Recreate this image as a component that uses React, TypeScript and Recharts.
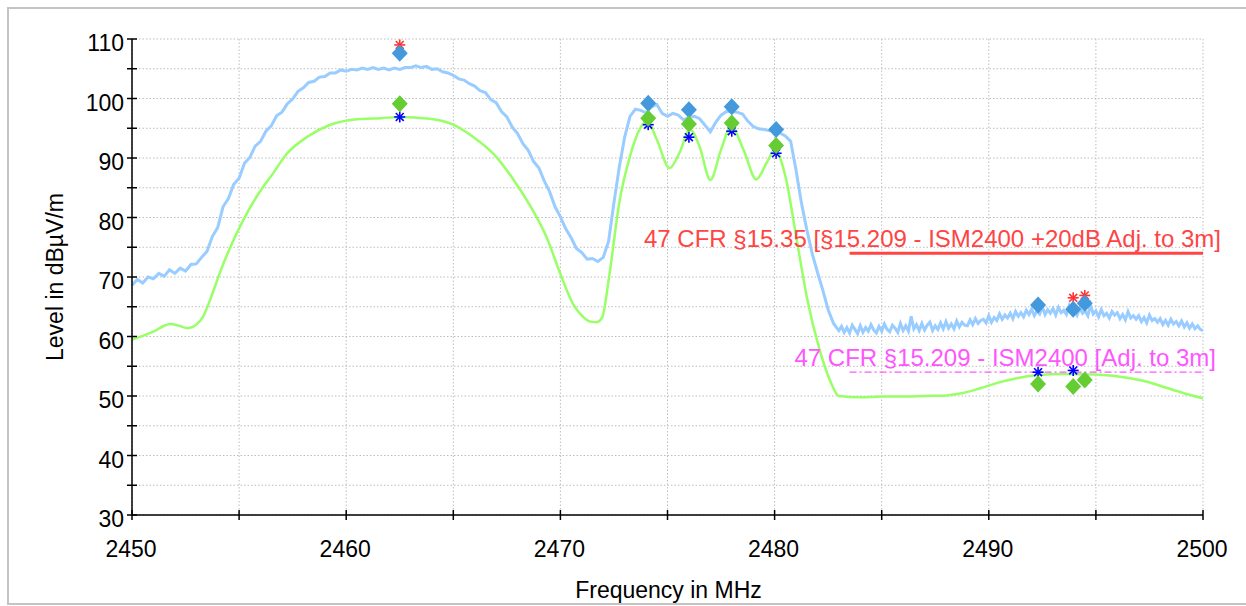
import React from "react"
import {
  ComposedChart,
  Line,
  Scatter,
  XAxis,
  YAxis,
  CartesianGrid,
  ReferenceLine,
} from "recharts"

const FONT = "'Liberation Sans', Arial, Helvetica, sans-serif"

// peak trace, part A: one value every 0.25 MHz from 2450 to 2482.75
const PEAK_A_START = 2450
const PEAK_A_STEP = 0.25
const PEAK_A_LEVELS = [
  68.6, 69.6, 69.0, 70.0, // 2450
  69.7, 70.6, 70.1, 71.2,
  70.6, 71.5, 71.0, 72.1,
  72.2, 73.3, 74.3, 76.8,
  78.3, 81.8, 83.2, 85.6,
  86.6, 89.1, 90.1, 92.0, // 2455
  92.8, 94.5, 95.4, 97.1,
  97.7, 99.1, 99.9, 101.2,
  101.8, 102.7, 102.9, 103.6,
  103.7, 104.3, 104.3, 104.8,
  104.6, 104.9, 104.8, 105.1, // 2460
  104.9, 105.2, 104.9, 105.1,
  104.8, 105.1, 104.9, 105.2,
  105.2, 105.5, 105.2, 105.4,
  104.9, 105.0, 104.5, 104.3,
  103.9, 103.3, 103.1, 102.5, // 2465
  102.1, 101.3, 101.0, 99.8,
  99.3, 97.8, 96.9, 95.2,
  94.1, 92.4, 91.3, 89.4,
  88.3, 86.1, 84.3, 81.8,
  80.1, 78.1, 76.6, 74.8, // 2470
  74.1, 73.0, 73.1, 72.6,
  73.3, 76.0, 82.5, 88.5,
  93.5, 97.0, 98.2, 98.0,
  97.6, 98.6, 99.0, 97.5,
  97.0, 97.5, 97.2, 96.4, // 2475
  96.8, 97.0, 96.6, 95.5,
  94.4, 96.0, 97.2, 97.8,
  97.8, 97.7, 97.4, 96.2,
  95.3, 94.9, 94.8, 94.6,
  94.5, 94.2, 93.7, 92.8, // 2480
  88.0, 82.5, 78.0, 74.0,
  70.8, 67.8, 64.5, 62.2,
]

// peak trace, part B: noisy floor, one value every 0.125 MHz from 2483 to 2500
const PEAK_B_START = 2483
const PEAK_B_STEP = 0.125
const PEAK_B_LEVELS = [
  61.0, 61.7, 60.7, 61.5, 60.6, 61.9, 61.2, 60.5, // 2483
  61.8, 60.7, 61.5, 60.9, 62.0, 61.1, 60.6, 61.7,
  60.9, 62.1, 61.2, 60.8, 61.9, 61.4, 60.7, 62.2, // 2485
  61.0, 61.8, 60.9, 63.4, 61.3, 62.0, 61.0, 62.2,
  61.1, 61.9, 62.4, 61.0, 61.8, 61.2, 62.3, 61.3,
  62.5, 61.4, 62.1, 61.3, 62.6, 61.6, 62.4, 61.9,
  61.8, 62.8, 62.0, 63.0, 62.2, 62.7, 62.9, 62.3,
  63.5, 62.4, 63.2, 62.7, 63.8, 62.9, 63.6, 63.1, // 2490
  63.9, 63.0, 64.2, 63.4, 64.0, 63.3, 64.4, 63.7,
  64.6, 63.5, 64.3, 63.8, 65.0, 63.7, 64.5, 63.9,
  64.7, 63.6, 64.9, 64.0, 64.4, 63.7, 65.1, 63.9,
  64.6, 63.6, 64.8, 63.9, 64.3, 63.5, 65.3, 63.8,
  64.3, 63.3, 64.5, 63.5, 63.9, 63.1, 64.2, 63.6, // 2495
  64.0, 63.0, 63.7, 62.8, 64.2, 63.1, 63.5, 62.9,
  63.5, 62.5, 63.2, 62.3, 63.6, 62.7, 63.0, 62.4,
  63.0, 62.0, 62.7, 61.9, 62.9, 62.1, 62.5, 61.8,
  62.6, 61.6, 62.3, 61.4, 62.1, 61.3, 61.8, 61.2,
  61.0, // 2500
]

// average trace [MHz, dBµV/m]
const AVG_POINTS = [
  [2450, 59.5], [2450.5, 60.1], [2451, 60.8], [2451.5, 61.8], [2451.8, 62.1],
  [2452.2, 61.8], [2452.6, 61.4], [2453, 62.0], [2453.3, 63.2], [2453.65, 66.2],
  [2454.1, 70.7], [2454.6, 75.1], [2455.2, 79.6], [2455.8, 83.4], [2456.6, 87.5],
  [2457.2, 90.6], [2458.2, 93.6], [2459.2, 95.5], [2460.5, 96.5], [2461.6, 96.7],
  [2462.5, 96.9], [2463.9, 96.6], [2465, 95.6], [2465.9, 93.6], [2466.9, 90.6],
  [2467.8, 86.4], [2468.6, 81.9], [2469.4, 76.3], [2470, 70.5], [2470.6, 65.4],
  [2471.0, 63.5], [2471.4, 62.5], [2471.7, 62.4], [2471.95, 63.2], [2472.3, 70.7],
  [2472.75, 82.5], [2473.25, 90.3], [2473.7, 94.8], [2474.05, 96.2], [2474.5, 93.1],
  [2475.1, 88.3], [2475.55, 90.8], [2476.05, 94.8], [2476.5, 91.9], [2477.0, 86.3],
  [2477.5, 91.4], [2477.97, 95.3], [2478.55, 91.4], [2479.15, 86.4], [2479.63, 89.2],
  [2480.02, 91.4], [2480.5, 87.0], [2481.0, 77.0], [2481.5, 66.7], [2482.1, 57.8],
  [2482.6, 52.5], [2483.0, 50.0], [2484, 49.8], [2485, 49.9], [2486, 49.9],
  [2487, 50.0], [2488, 50.1], [2488.8, 50.5], [2489.6, 51.3], [2490.4, 52.2],
  [2491.3, 53.0], [2492.2, 53.5], [2493.5, 53.7], [2495, 53.6], [2496.6, 53.0],
  [2497.4, 52.4], [2498.1, 51.6], [2499, 50.6], [2500, 49.6],
]

// markers [MHz, dBµV/m]
const PEAK_DIAMONDS = [
  [2462.5, 107.6], [2474.1, 99.2], [2476.0, 98.1], [2478.0, 98.6], [2480.07, 94.8],
  [2492.3, 65.3], [2493.94, 64.6], [2494.48, 65.6],
]
const PEAK_STARS = [[2462.5, 109.0], [2493.94, 66.5], [2494.48, 66.9]]
const AVG_DIAMONDS = [
  [2462.5, 99.1], [2474.1, 96.7], [2476.0, 95.7], [2478.0, 95.9], [2480.07, 92.1],
  [2492.3, 52.0], [2493.94, 51.6], [2494.48, 52.7],
]
const AVG_STARS = [
  [2462.5, 96.9], [2474.1, 95.6], [2476.0, 93.5], [2478.0, 94.5], [2480.07, 90.8],
  [2492.3, 54.0], [2493.94, 54.3],
]

// limit lines
const LIMIT_START = 2483.5
const LIMIT_END = 2500
const PEAK_LIMIT = 74
const AVG_LIMIT = 54
const PEAK_LIMIT_LABEL = "47 CFR §15.35 [§15.209 - ISM2400 +20dB Adj. to 3m]"
const AVG_LIMIT_LABEL = "47 CFR §15.209 - ISM2400 [Adj. to 3m]"

const X_TICKS = [2450, 2455, 2460, 2465, 2470, 2475, 2480, 2485, 2490, 2495, 2500]
const Y_TICKS = [30, 35, 40, 45, 50, 55, 60, 65, 70, 75, 80, 85, 90, 95, 100, 105, 110]
const X_TITLE = "Frequency in MHz"
const Y_TITLE = "Level in dBµV/m"

const peakData = [
  ...PEAK_A_LEVELS.map((y, i) => ({ x: PEAK_A_START + i * PEAK_A_STEP, y })),
  ...PEAK_B_LEVELS.map((y, i) => ({ x: PEAK_B_START + i * PEAK_B_STEP, y })),
]
const toXY = (pts: number[][]) => pts.map(([x, y]) => ({ x, y }))

const Diamond = ({ cx, cy, fill }: any) => (
  <polygon
    points={`${cx},${cy - 8.5} ${cx + 8},${cy} ${cx},${cy + 8.5} ${cx - 8},${cy}`}
    fill={fill}
  />
)

const Star = ({ cx, cy, stroke }: any) => {
  const r = 5.5
  const d = r * 0.72
  return (
    <g stroke={stroke} strokeWidth={1.6}>
      <line x1={cx - r} y1={cy} x2={cx + r} y2={cy} />
      <line x1={cx} y1={cy - r} x2={cx} y2={cy + r} />
      <line x1={cx - d} y1={cy - d} x2={cx + d} y2={cy + d} />
      <line x1={cx - d} y1={cy + d} x2={cx + d} y2={cy - d} />
    </g>
  )
}

// ticks cross the axis line, labels only every 10
const YTick = ({ x, y, payload }: any) => (
  <g>
    <line x1={x} x2={x + 10} y1={y} y2={y} stroke="#000" strokeWidth={1.5} />
    {payload.value % 10 === 0 && (
      <text x={x - 3} y={y + 12} textAnchor="end" fontSize={23} fontFamily={FONT} fill="#000">
        {payload.value}
      </text>
    )}
  </g>
)

const XTick = ({ x, y, payload }: any) => (
  <g>
    <line x1={x} x2={x} y1={y - 10} y2={y} stroke="#000" strokeWidth={1.5} />
    {payload.value % 10 === 0 && (
      <text x={x - 1} y={y + 37} textAnchor="middle" fontSize={23} fontFamily={FONT} fill="#000">
        {payload.value}
      </text>
    )}
  </g>
)

const yTitle = (props: any) => {
  const vb = props.viewBox || { x: 0, y: 30, width: 123, height: 476 }
  const cx = vb.x + 54
  const cy = vb.y + vb.height / 2
  return (
    <text
      x={cx}
      y={cy}
      transform={`rotate(-90 ${cx} ${cy})`}
      textAnchor="middle"
      fontSize={23}
      fontFamily={FONT}
      fill="#000"
    >
      {Y_TITLE}
    </text>
  )
}

const xTitle = (props: any) => {
  const vb = props.viewBox || { x: 123, y: 506, width: 1071, height: 88 }
  return (
    <text
      x={vb.x + vb.width / 2 + 1}
      y={vb.y + 83}
      textAnchor="middle"
      fontSize={23}
      fontFamily={FONT}
      fill="#000"
    >
      {X_TITLE}
    </text>
  )
}

const limitLabel = (text: string, color: string, dx: number) => (props: any) => {
  const vb = props.viewBox
  if (!vb) return null
  return (
    <text
      x={vb.x + vb.width + dx}
      y={vb.y - 6}
      textAnchor="end"
      fontSize={24}
      fontFamily={FONT}
      fill={color}
    >
      {text}
    </text>
  )
}

export default function App() {
  return (
    <div
      style={{
        position: "absolute",
        left: 7,
        top: 7,
        width: 1250,
        height: 598,
        boxSizing: "border-box",
        borderLeft: "2px solid #c4c4c4",
        borderTop: "2px solid #c4c4c4",
        borderBottom: "2px solid #c4c4c4",
        overflow: "hidden",
        background: "#fff",
      }}
    >
      <ComposedChart
        width={1237}
        height={594}
        margin={{ top: 30, right: 43, left: 0, bottom: 0 }}
      >
        <CartesianGrid stroke="#bdbdbd" strokeDasharray="1.5 2" />
        <XAxis
          dataKey="x"
          type="number"
          domain={[2450, 2500]}
          ticks={X_TICKS}
          interval={0}
          height={88}
          tickSize={5}
          tickMargin={0}
          tickLine={false}
          tick={<XTick />}
          axisLine={{ stroke: "#000", strokeWidth: 1.5 }}
          allowDataOverflow
          label={xTitle}
        />
        <YAxis
          type="number"
          domain={[30, 110]}
          ticks={Y_TICKS}
          interval={0}
          width={123}
          tickSize={5}
          tickMargin={0}
          tickLine={false}
          tick={<YTick />}
          axisLine={{ stroke: "#000", strokeWidth: 1.5 }}
          allowDataOverflow
          label={yTitle}
        />
        <Line
          data={toXY(AVG_POINTS)}
          dataKey="y"
          type="monotone"
          stroke="#99ff66"
          strokeWidth={2.5}
          dot={false}
          isAnimationActive={false}
        />
        <Line
          data={peakData}
          dataKey="y"
          type="linear"
          stroke="#99ccff"
          strokeWidth={3}
          dot={false}
          isAnimationActive={false}
        />
        <ReferenceLine
          segment={[
            { x: LIMIT_START, y: PEAK_LIMIT },
            { x: LIMIT_END, y: PEAK_LIMIT },
          ]}
          stroke="#ff4444"
          strokeWidth={3}
          label={limitLabel(PEAK_LIMIT_LABEL, "#ff4444", 18)}
        />
        <ReferenceLine
          segment={[
            { x: LIMIT_START, y: AVG_LIMIT },
            { x: LIMIT_END, y: AVG_LIMIT },
          ]}
          stroke="#ff55ff"
          strokeWidth={1.2}
          strokeDasharray="7 3 2 3"
          label={limitLabel(AVG_LIMIT_LABEL, "#ff55ff", 13)}
        />
        <Scatter
          data={toXY(PEAK_STARS)}
          dataKey="y"
          shape={(p: any) => <Star cx={p.cx} cy={p.cy} stroke="#ff3333" />}
          isAnimationActive={false}
        />
        <Scatter
          data={toXY(PEAK_DIAMONDS)}
          dataKey="y"
          shape={(p: any) => <Diamond cx={p.cx} cy={p.cy} fill="#4499dd" />}
          isAnimationActive={false}
        />
        <Scatter
          data={toXY(AVG_STARS)}
          dataKey="y"
          shape={(p: any) => <Star cx={p.cx} cy={p.cy} stroke="#0000ff" />}
          isAnimationActive={false}
        />
        <Scatter
          data={toXY(AVG_DIAMONDS)}
          dataKey="y"
          shape={(p: any) => <Diamond cx={p.cx} cy={p.cy} fill="#66cc33" />}
          isAnimationActive={false}
        />
      </ComposedChart>
    </div>
  )
}
